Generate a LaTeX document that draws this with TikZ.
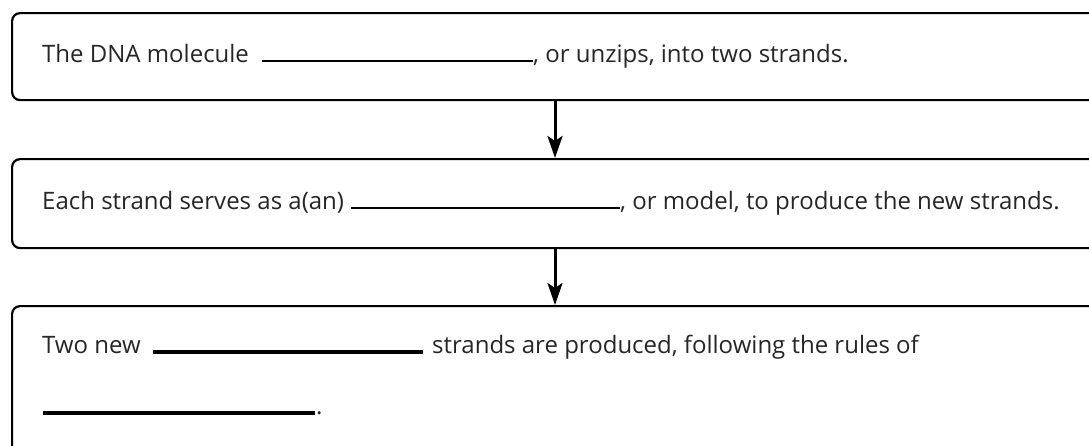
\documentclass[tikz,border=0pt]{standalone}
\usepackage{fontspec}
\setmainfont{Open Sans}
\usetikzlibrary{arrows.meta, positioning}
\tikzstyle{sbox} = [draw, line width=2.2pt, rounded corners=8pt, inner sep=0pt, anchor=north west]
\tikzstyle{txt} = [anchor=base west, inner sep=0pt, font=\fontsize{24}{28}\selectfont, text=black!85]
\tikzstyle{blank} = [draw, line width=2pt]
\tikzstyle{arr} = [draw, line width=3pt, -{Stealth[length=22pt, width=15pt, inset=5pt]}]

\begin{document}
\begin{tikzpicture}[x=1pt, y=-1pt]
	\useasboundingbox (0,0) rectangle (1089,445);
	\clip (0,0) rectangle (1089,445);

	\node [sbox, minimum width=1200pt, minimum height=87pt] (box1) at (11,12) {};
	\node [sbox, minimum width=1200pt, minimum height=89pt] (box2) at (11,158) {};
	\node [sbox, minimum width=1200pt, minimum height=200pt] (box3) at (11,305) {};

	\node [txt] (dna) at (42,62) {The DNA molecule};
	\draw [blank] (262,61) -- (533,61);
	\node [txt] (unzip) at (533,62) {, or unzips, into two strands.};

	\node [txt] (strand) at (42,209) {Each strand serves as a(an)};
	\draw [blank] (351,208) -- (620,208);
	\node [txt] (model) at (620,209) {, or model, to produce the new strands.};

	\node [txt] (two) at (42,353) {Two new};
	\draw [blank, line width=3.5pt] (153,352) -- (423,352);
	\node [txt] (rules) at (432,353) {strands are produced, following the rules of};
	\draw [blank, line width=3.5pt] (43,413) -- (315,413);
	\node [txt] (dot) at (316,414) {.};

	\coordinate (ax) at (555,0);
	\path [arr] (box1.south -| ax) -- (box2.north -| ax);
	\path [arr] (box2.south -| ax) -- (box3.north -| ax);
\end{tikzpicture}
\end{document}
